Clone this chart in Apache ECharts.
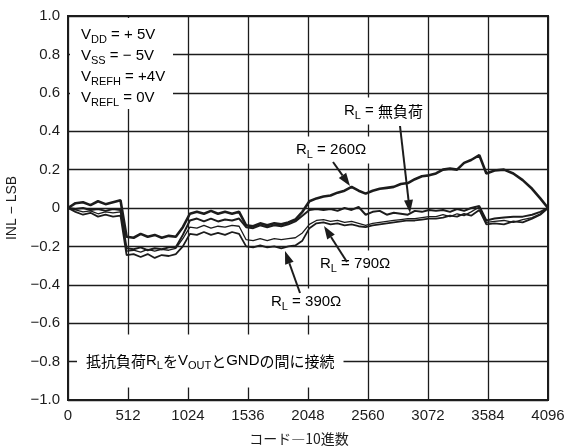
<!DOCTYPE html>
<html>
<head>
<meta charset="utf-8">
<script src="https://cdn.jsdelivr.net/npm/echarts@6/dist/echarts.min.js"></script>
<style>
  html, body { margin: 0; padding: 0; background: #fff; }
  #chart { width: 566px; height: 448px; }
</style>
</head>
<body>
<div id="chart"></div>
<script>
// code (decimal) sampled along the x axis, shared by the four curves
var codes = [0, 64, 128, 192, 256, 320, 384, 448,
  500, 560, 620, 680, 740, 800, 860, 920, 980,
  1040, 1100, 1160, 1220, 1280, 1340, 1400, 1460,
  1520, 1580, 1640, 1700, 1760, 1820, 1880, 1940, 2000,
  2060, 2120, 2180, 2240, 2300, 2360, 2420, 2480, 2540, 2600, 2660, 2720, 2780, 2840, 2900, 2960,
  3020, 3080, 3140, 3200, 3260, 3320, 3380, 3440, 3510,
  3570, 3640, 3720, 3800, 3880, 3960, 4030, 4096];

var inl260 = [0, 0.025, 0.03, 0.015, 0.035, 0.02, 0.03, 0.04,
  -0.15, -0.155, -0.135, -0.15, -0.14, -0.155, -0.145, -0.15, -0.1,
  -0.03, -0.02, -0.03, -0.015, -0.03, -0.02, -0.03, -0.02,
  -0.09, -0.095, -0.08, -0.09, -0.08, -0.085, -0.075, -0.06, -0.02,
  0.035, 0.05, 0.06, 0.065, 0.08, 0.09, 0.11, 0.09, 0.075, 0.09, 0.1, 0.105, 0.11, 0.125, 0.13, 0.15,
  0.165, 0.17, 0.18, 0.2, 0.205, 0.2, 0.235, 0.25, 0.275,
  0.18, 0.195, 0.2, 0.18, 0.145, 0.1, 0.05, 0];

var inlNoLoad = [0, -0.005, 0, -0.01, -0.005, -0.015, -0.005, -0.01,
  -0.21, -0.215, -0.205, -0.22, -0.21, -0.215, -0.205, -0.205, -0.14,
  -0.065, -0.055, -0.07, -0.055, -0.07, -0.06, -0.065, -0.055,
  -0.1, -0.105, -0.09, -0.1, -0.09, -0.095, -0.085, -0.07, -0.04,
  -0.01, -0.005, -0.01, -0.005, -0.015, 0, -0.01, 0.005, -0.035, -0.02, -0.015, -0.035, -0.025, -0.03, -0.035, -0.015,
  -0.02, -0.01, -0.015, -0.01, -0.02, -0.005, -0.015, 0, 0.01,
  -0.065, -0.055, -0.05, -0.045, -0.045, -0.035, -0.02, 0];

var inl790 = [0, -0.01, -0.02, -0.015, -0.03, -0.02, -0.025, -0.02,
  -0.225, -0.22, -0.23, -0.215, -0.225, -0.215, -0.22, -0.21, -0.16,
  -0.1, -0.105, -0.09, -0.105, -0.095, -0.1, -0.09, -0.095,
  -0.165, -0.17, -0.16, -0.17, -0.16, -0.165, -0.16, -0.155, -0.13,
  -0.085, -0.065, -0.06, -0.07, -0.065, -0.075, -0.07, -0.08, -0.09, -0.08, -0.075, -0.07, -0.065, -0.06, -0.055, -0.055,
  -0.05, -0.045, -0.045, -0.035, -0.045, -0.03, -0.04, -0.02, 0.005,
  -0.075, -0.07, -0.065, -0.075, -0.06, -0.05, -0.03, 0];

var inl390 = [0, -0.02, -0.035, -0.025, -0.045, -0.035, -0.045, -0.04,
  -0.245, -0.24, -0.255, -0.24, -0.26, -0.245, -0.25, -0.24, -0.2,
  -0.135, -0.14, -0.125, -0.14, -0.13, -0.14, -0.125, -0.135,
  -0.2, -0.205, -0.195, -0.205, -0.2, -0.21, -0.2, -0.195, -0.17,
  -0.105, -0.08, -0.075, -0.085, -0.08, -0.09, -0.085, -0.095, -0.1, -0.09, -0.085, -0.08, -0.075, -0.07, -0.065, -0.065,
  -0.06, -0.055, -0.055, -0.05, -0.04, -0.045, -0.03, -0.04, -0.01,
  -0.085, -0.08, -0.085, -0.07, -0.075, -0.055, -0.035, 0];

var xTicks = [0, 512, 1024, 1536, 2048, 2560, 3072, 3584, 4096];

var FONT = '"Liberation Sans", Arial, "Noto Sans CJK JP", sans-serif';
var INK = '#1c1c1c';

function pairs(vals) {
  return codes.map(function(c, i) { return [c, vals[i]]; });
}

function curve(name, vals, width) {
  return {
    name: name,
    type: 'line',
    data: pairs(vals),
    symbol: 'none',
    smooth: false,
    animation: false,
    lineStyle: { color: INK, width: width },
    z: 3
  };
}

var rich = {
  m: { fontSize: 15, fontFamily: FONT, color: INK, lineHeight: 21 },
  s: { fontSize: 11, fontFamily: FONT, color: INK, verticalAlign: 'bottom' },
  j: { fontSize: 15, fontFamily: '"Noto Sans CJK JP", sans-serif', color: INK, lineHeight: 21 }
};

function label(x, y, text, align) {
  return {
    type: 'text',
    x: x, y: y, z: 100,
    style: {
      text: text, rich: rich, align: align || 'left', verticalAlign: 'middle',
      backgroundColor: '#fff', padding: [3, 4]
    }
  };
}

function arrow(x1, y1, x2, y2) {
  var a = Math.atan2(y2 - y1, x2 - x1), L = 13, W = 4.5;
  var c = Math.cos(a), s = Math.sin(a);
  var bx = x2 - L * c, by = y2 - L * s;
  return [{
    type: 'line', z: 100,
    shape: { x1: x1, y1: y1, x2: bx, y2: by },
    style: { stroke: INK, lineWidth: 2 }
  }, {
    type: 'polygon', z: 100,
    shape: { points: [[x2, y2], [bx - W * s, by + W * c], [bx + W * s, by - W * c]] },
    style: { fill: INK }
  }];
}

var graphics = [
  // supply conditions box, top left
  { type: 'rect', z: 99, shape: { x: 70, y: 18, width: 103, height: 91 }, style: { fill: '#fff' } },
  {
    type: 'text', x: 81, y: 24, z: 100,
    style: {
      rich: rich, verticalAlign: 'top',
      text: '{m|V}{s|DD}{m| = + 5V}\n{m|V}{s|SS}{m| = − 5V}\n{m|V}{s|REFH}{m| = +4V}\n{m|V}{s|REFL}{m| = 0V}'
    }
  },
  label(340, 111, '{m|R}{s|L}{m| = }{j|無負荷}'),
  label(292, 150, '{m|R}{s|L}{m| = 260Ω}'),
  label(316, 264, '{m|R}{s|L}{m| = 790Ω}'),
  label(267, 302, '{m|R}{s|L}{m| = 390Ω}'),
  {
    type: 'text', x: 77, y: 361, z: 100,
    style: {
      rich: rich, verticalAlign: 'middle', backgroundColor: '#fff', padding: [16, 9],
      text: '{j|抵抗負荷}{m|R}{s|L}{j|を}{m|V}{s|OUT}{j|と}{m|GND}{j|の間に接続}'
    }
  }
];
graphics = graphics
  .concat(arrow(400, 126, 410, 213))
  .concat(arrow(333, 162, 350, 186))
  .concat(arrow(347, 262, 324, 226))
  .concat(arrow(300, 293, 285, 251));

var option = {
  backgroundColor: '#fff',
  animation: false,
  grid: {
    left: 68, right: 18, top: 16, bottom: 48,
    outerBoundsMode: 'none',
    show: true, borderColor: INK, borderWidth: 2, backgroundColor: 'transparent'
  },
  xAxis: {
    type: 'value', min: 0, max: 4096, interval: 512,
    name: 'コード―10進数', nameLocation: 'middle', nameGap: 32,
    nameTextStyle: {
      fontSize: 14, color: INK, fontFamily: '"Noto Sans CJK JP", sans-serif',
      padding: [0, 18, 0, 0]
    },
    axisLine: { show: false }, axisTick: { show: false },
    axisLabel: {
      fontSize: 15, color: INK, fontFamily: FONT, margin: 8,
      formatter: function(v) { return xTicks.indexOf(v) >= 0 ? String(v) : ''; }
    },
    splitLine: { show: true, lineStyle: { color: INK, width: 1.3 } }
  },
  yAxis: {
    type: 'value', min: -1, max: 1, interval: 0.2,
    name: 'INL − LSB', nameLocation: 'middle', nameGap: 48, nameRotate: 90,
    nameTextStyle: { fontSize: 14, color: INK, fontFamily: FONT },
    axisLine: { show: false }, axisTick: { show: false },
    axisLabel: {
      fontSize: 15, color: INK, fontFamily: FONT, margin: 8,
      formatter: function(v) {
        if (Math.abs(v) < 1e-9) return '0';
        return v.toFixed(1).replace('-', '−');
      }
    },
    splitLine: { show: true, lineStyle: { color: INK, width: 1.3 } }
  },
  series: [
    curve('RL = 260Ω', inl260, 2.6),
    curve('RL = 無負荷', inlNoLoad, 2),
    curve('RL = 790Ω', inl790, 1.3),
    curve('RL = 390Ω', inl390, 1.8)
  ],
  graphic: graphics
};

var myChart = echarts.init(document.getElementById('chart'));
myChart.setOption(option);
</script>
</body>
</html>
